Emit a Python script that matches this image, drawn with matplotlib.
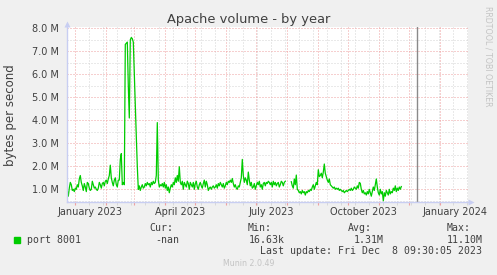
import numpy as np
import pandas as pd
import matplotlib
matplotlib.use("Agg")
import matplotlib.pyplot as plt
import matplotlib.dates as mdates
import matplotlib.transforms as mtrans
from matplotlib.lines import Line2D
from matplotlib.patches import Rectangle

# daily values (MB/s) starting 2022-12-24, nan = no data
start_day = "2022-12-24"
volume_m = [
    0.95, 0.7, 1.05, 1.3, 1.2, 0.95, 1.0, 0.9,                   # Dec 24 - 31
    1.05, 1.0, 1.2, 1.1, 1.45, 1.6, 1.3, 1.15, 0.95, 1.25,       # day 0..9
    1.1, 0.9, 1.3, 1.25, 1.05, 0.95, 1.0, 1.35, 1.2, 1.05,
    1.1, 1.0, 0.95, 1.05, 1.3, 1.2, 1.05, 1.25, 1.3, 1.15,
    1.35, 1.4, 1.25, 1.45, 1.6, 2.05, 1.5, 1.3, 1.15, 1.4,
    1.5, 1.2, 1.1, 1.4, 1.4, 2.3, 2.55, 1.2, 1.3, 1.2,
    7.3, 7.35, 7.4, 5.5, 4.1, 7.5, 7.6, 7.55, 7.4, 6.0,
    4.5, 3.3, 2.0, 1.0, 1.15, 0.95, 1.1, 1.2, 1.05, 1.1,
    1.25, 1.15, 1.3, 1.2, 1.25, 1.1, 1.3, 1.2, 1.35, 1.25,
    1.3, 1.6, 3.9, 1.4, 1.1, 1.2, 1.15, 1.25, 1.1, 1.3,
    1.05, 1.2, 0.95, 1.1, 0.85, 1.05, 1.2, 1.1, 1.3, 1.2,
    1.5, 1.3, 1.6, 1.35, 1.98, 1.3, 1.2, 1.35, 1.0, 1.3,
    1.2, 1.1, 1.35, 1.25, 1.0, 1.3, 1.2, 1.1, 1.3, 1.0,
    1.25, 1.35, 1.1, 1.0, 1.2, 1.3, 1.15, 1.05, 1.25, 1.4,
    1.1, 1.35, 1.2, 0.95, 1.05, 1.1, 1.0, 1.1, 1.15, 1.05,
    1.1, 1.2, 1.05, 1.25, 1.15, 1.3, 1.2, 1.1, 1.25, 1.05,
    1.15, 1.3, 1.2, 1.35, 1.3, 1.4, 1.3, 1.47, 1.25, 1.1,
    1.2, 1.05, 1.0, 1.15, 1.1, 1.3, 1.5, 2.3, 1.6, 1.3,
    1.5, 1.4, 1.2, 1.75, 1.4, 1.15, 1.3, 1.05, 1.1, 1.25,
    1.0, 1.15, 1.3, 1.2, 1.35, 1.1, 1.2, 1.0, 1.25, 1.3,
    1.15, 1.3, 1.25, 1.35, 1.3, 1.2, 1.3, 1.1, 1.35, 1.2,
    1.3, 1.15, 1.25, 1.3, 1.1, 1.2, 1.35, 1.3, 1.15, 1.3,
    1.35, np.nan, np.nan, np.nan, np.nan, np.nan, 1.33, 1.15, 1.05, 1.45,
    1.2, 1.62, 1.0, 0.95, 0.85, 0.9, 0.8, 0.95, 0.85, 0.9,
    0.75, 0.9, 0.85, 0.95, 0.9, 1.0, 0.95, 1.1, 1.2, 1.0,
    1.15, 1.3, 1.2, 1.85, 1.55, 1.6, 1.7, 1.5, 1.75, 2.1,
    1.7, 1.55, 1.4, 1.3, 1.45, 1.2, 1.15, 1.1, 1.05, 1.1,
    1.0, 1.05, 1.0, 1.05, 0.95, 1.0, 0.95, 0.9, 0.95, 0.85,
    0.9, 0.95, 0.9, 0.95, 1.0, 0.95, 1.05, 0.95, 1.0, 1.1,
    1.05, 1.0, 1.15, 1.05, 1.3, 1.26, 1.0, 0.85, 0.95, 0.8,
    0.85, 0.75, 0.9, 0.8, 1.0, 0.85, 0.7, 0.9, 1.1, 0.95,
    1.2, 1.45, 1.1, 0.85, 0.75, 1.0, 0.8, 0.9, 0.5, 0.85,
    0.7, 0.95, 0.85, 0.75, 1.0, 0.8, 0.9, 0.85, 1.05, 0.95,
    1.15, 0.9, 1.05, 0.95, 1.1, 1.0, 1.12,
]

month_labels = ["January 2023", "April 2023", "July 2023", "October 2023", "January 2024"]
month_label_dates = ["2023-01-16", "2023-04-16", "2023-07-16", "2023-10-16", "2024-01-16"]
yticks_m = [1, 2, 3, 4, 5, 6, 7, 8]
last_update = "2023-12-08 09:30:05"

legend_name = "port 8001"
stat_heads = ["Cur:", "Min:", "Avg:", "Max:"]
stat_vals = ["-nan", "16.63k", "1.31M", "11.10M"]

W, H = 497, 275
def fx(x):
    return x / W
def fy(y):
    return 1 - y / H

green = "#00CC00"
txt = "#404040"
axcol = "#C8CEF2"

fig = plt.figure(figsize=(W / 100, H / 100), dpi=100, facecolor="#F0F0F0")
# plot box in pixels: x 67..468, y 27..202.3
ax = fig.add_axes([fx(67), fy(202.3), (468 - 67) / W, (202.3 - 27) / H])
ax.set_facecolor("white")

dates = pd.date_range(start_day, periods=len(volume_m), freq="D")
vals = np.array(volume_m) * 1e6
ax.plot(dates, vals, color=green, lw=0.9, zorder=5)

# grid
ax.xaxis.set_major_locator(mdates.MonthLocator())
minor_days = pd.date_range("2022-12-04", "2024-02-15", freq="14D")
ax.set_xticks(minor_days, minor=True)
ax.set_yticks([v * 1e6 for v in yticks_m])
ax.set_yticks(np.arange(0.5, 8.01, 1.0) * 1e6, minor=True)
ax.set_yticklabels(["%.1f M" % v for v in yticks_m])
ax.xaxis.set_major_formatter(plt.NullFormatter())

jan1 = pd.Timestamp("2023-01-01")
ax.set_xlim(jan1 - pd.Timedelta(days=8.3), jan1 + pd.Timedelta(days=392.7))
ax.set_ylim(0.435e6, 8.057e6)

dot = (0, (1, 2))
ax.grid(which="minor", color="#D4D4D4", lw=0.72, ls=dot, zorder=1)
ax.grid(which="major", color="#EFA0A0", lw=0.72, ls=dot, zorder=2)
ax.tick_params(axis="both", which="major", length=2.5, color="#EFA0A0", direction="out",
               labelsize=7, labelcolor=txt, pad=5.5)
ax.tick_params(axis="both", which="minor", length=2.5, color="#D4D4D4", direction="out")
ax.tick_params(axis="y", which="both", length=0)
for s in ax.spines.values():
    s.set_visible(False)

# now line
ax.axvline(pd.Timestamp(last_update), color="#8A8A8A", lw=1.0, zorder=4)

# month labels
lab_tr = mtrans.blended_transform_factory(ax.transData, fig.transFigure)
for lab, d in zip(month_labels, month_label_dates):
    ax.text(pd.Timestamp(d), fy(212.3), lab, transform=lab_tr,
            ha="center", va="center", fontsize=7, color=txt)

# axis lines with arrows
fig.add_artist(Line2D([fx(67), fx(67)], [fy(202.3), fy(24)], color=axcol, lw=1))
fig.add_artist(Line2D([fx(67), fx(470)], [fy(202.3), fy(202.3)], color=axcol, lw=1))
fig.add_artist(Line2D([fx(67)], [fy(23.5)], marker="^", ms=4.5, color=axcol, mec="none"))
fig.add_artist(Line2D([fx(470.5)], [fy(202.3)], marker=">", ms=4.5, color=axcol, mec="none"))

# texts
fig.text(fx(248.7), fy(19.3), "Apache volume - by year", ha="center", va="center",
         fontsize=9.4, color=txt)
fig.text(fx(10.7), fy(115), "bytes per second", rotation=90, ha="center", va="center",
         fontsize=8.5, color=txt)
fig.text(fx(487.7), fy(56), "RRDTOOL / TOBI OETIKER", rotation=270, ha="center", va="center",
         fontsize=5.7, color="#C4C4C4")

mono = dict(family="DejaVu Sans Mono", fontsize=7.1, color=txt, va="center")
fig.add_artist(Rectangle((fx(14), fy(243)), 6 / W, 6 / H, color=green, transform=fig.transFigure))
fig.text(fx(26.7), fy(240), legend_name, **mono)
head_x = [149, 248, 348, 446.7]
val_x = [155.7, 249, 354, 447]
for hx, h in zip(head_x, stat_heads):
    fig.text(fx(hx), fy(228), h, **mono)
for vx, v in zip(val_x, stat_vals):
    fig.text(fx(vx), fy(240), v, **mono)
lu = pd.Timestamp(last_update)
fig.text(fx(482.3), fy(251), "Last update: " + lu.strftime("%a %b ") + "%2d" % lu.day + lu.strftime(" %H:%M:%S %Y"),
         ha="right", **mono)
fig.text(fx(248.5), fy(264), "Munin 2.0.49", ha="center", va="center", fontsize=5.7, color="#C4C4C4")

fig.savefig("out.png", dpi=100, facecolor=fig.get_facecolor())
